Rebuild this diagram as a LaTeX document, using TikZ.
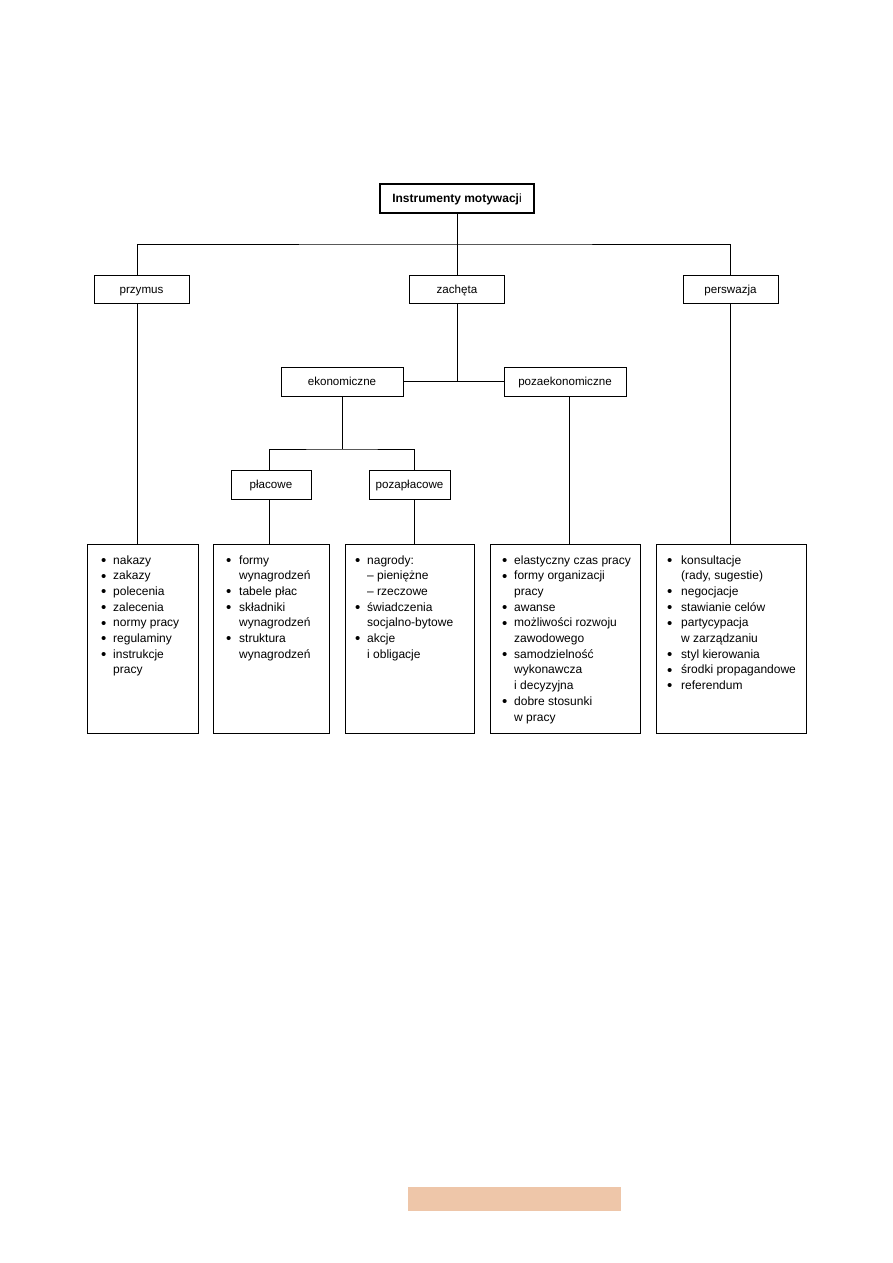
\documentclass[tikz,border=0pt]{standalone}
\usepackage{fontspec}
\setmainfont{Liberation Sans}
\usetikzlibrary{calc}
\definecolor{peach}{RGB}{238,198,169}
\newcommand{\bul}{\raisebox{-1.3pt}{\fontsize{15}{15}\selectfont •}}
\begin{document}
\begin{tikzpicture}[x=1pt,y=-1pt,
  box/.style={draw, line width=1pt, inner sep=0pt, text height=10pt, text depth=2pt, font=\fontsize{11.6}{14}\selectfont},
  titlebox/.style={draw, line width=1.8pt, inner sep=0pt, text height=10pt, text depth=2pt, font=\fontsize{12}{14}\selectfont},
  listbox/.style={draw, line width=1pt, inner sep=0pt},
  listtext/.style={inner sep=0pt, anchor=base west, font=\fontsize{12}{15.7}\selectfont},
  conn/.style={line width=1pt}]
\useasboundingbox (0,0) rectangle (893,1263);

% top level
\node[titlebox, minimum width=154pt, minimum height=29pt] (title) at (457,198.5) {\textbf{Instrumenty motywacj}i};
\node[box, minimum width=95pt, minimum height=28pt] (przymus) at (141.5,289) {przymus};
\node[box, minimum width=95pt, minimum height=28pt] (zacheta) at (457,289) {zachęta};
\node[box, minimum width=95pt, minimum height=28pt] (perswazja) at (730.5,289) {perswazja};

\node[box, minimum width=122pt, minimum height=29pt] (ekon) at (342,381.5) {ekonomiczne};
\node[box, minimum width=122pt, minimum height=29pt] (pozaekon) at (565,381.5) {pozaekonomiczne};

\node[box, minimum width=80pt, minimum height=29pt] (placowe) at (271,484.5) {płacowe};
\node[box, minimum width=81pt, minimum height=29pt] (pozaplacowe) at (409.5,484.5) {pozapłacowe};

% bottom boxes
\node[listbox, minimum width=111pt, minimum height=189pt] (b1) at (142.5,638.5) {};
\node[listbox, minimum width=116pt, minimum height=189pt] (b2) at (271,638.5) {};
\node[listbox, minimum width=129pt, minimum height=189pt] (b3) at (409.5,638.5) {};
\node[listbox, minimum width=150pt, minimum height=189pt] (b4) at (565,638.5) {};
\node[listbox, minimum width=150pt, minimum height=189pt] (b5) at (731,638.5) {};

\node[listtext] (t1) at (101,564) {\begin{tabular}[t]{@{}p{12pt}@{}l@{}}
\bul & nakazy\\
\bul & zakazy\\
\bul & polecenia\\
\bul & zalecenia\\
\bul & normy pracy\\
\bul & regulaminy\\
\bul & instrukcje\\
  & pracy
\end{tabular}};

\node[listtext] (t2) at (226,564) {\begin{tabular}[t]{@{}p{13pt}@{}l@{}}
\bul & formy\\
  & wynagrodzeń\\
\bul & tabele płac\\
\bul & składniki\\
  & wynagrodzeń\\
\bul & struktura\\
  & wynagrodzeń
\end{tabular}};

\node[listtext] (t3) at (355,564) {\begin{tabular}[t]{@{}p{12pt}@{}l@{}}
\bul & nagrody:\\
  & – pieniężne\\
  & – rzeczowe\\
\bul & świadczenia\\
  & socjalno-bytowe\\
\bul & akcje\\
  & i obligacje
\end{tabular}};

\node[listtext] (t4) at (502,564) {\begin{tabular}[t]{@{}p{12pt}@{}l@{}}
\bul & elastyczny czas pracy\\
\bul & formy organizacji\\
  & pracy\\
\bul & awanse\\
\bul & możliwości rozwoju\\
  & zawodowego\\
\bul & samodzielność\\
  & wykonawcza\\
  & i decyzyjna\\
\bul & dobre stosunki\\
  & w pracy
\end{tabular}};

\node[listtext] (t5) at (667,564) {\begin{tabular}[t]{@{}p{14pt}@{}l@{}}
\bul & konsultacje\\
  & (rady, sugestie)\\
\bul & negocjacje\\
\bul & stawianie celów\\
\bul & partycypacja\\
  & w zarządzaniu\\
\bul & styl kierowania\\
\bul & środki propagandowe\\
\bul & referendum
\end{tabular}};

% junction coordinates
\coordinate (j0) at (457,244);
\coordinate (xa) at (137,0);
\coordinate (j1) at (457,382);
\coordinate (j2) at (342,449);
\coordinate (xp) at (269,0);
\coordinate (xq) at (414,0);
\coordinate (xr) at (569,0);
\coordinate (xs) at (730,0);

% connectors
\draw[conn] (title.south) -- (j0);
\draw[conn] (przymus.north -| xa) |- (j0) -| (perswazja.north -| xs);
\draw[conn] (j0) -- (zacheta.north);
\draw[conn] (zacheta.south) -- (j1);
\draw[conn] (ekon.east) -- (pozaekon.west);
\draw[conn] (ekon.south) -- (j2);
\draw[conn] (placowe.north -| xp) |- (j2) -| (pozaplacowe.north -| xq);
\draw[conn] (przymus.south -| xa) -- (b1.north -| xa);
\draw[conn] (placowe.south -| xp) -- (b2.north -| xp);
\draw[conn] (pozaplacowe.south -| xq) -- (b3.north -| xq);
\draw[conn] (pozaekon.south -| xr) -- (b4.north -| xr);
\draw[conn] (perswazja.south -| xs) -- (b5.north -| xs);

% bottom bar
\node[fill=peach, inner sep=0pt, minimum width=213pt, minimum height=24pt] (bar) at (514.5,1199) {};
\end{tikzpicture}
\end{document}
